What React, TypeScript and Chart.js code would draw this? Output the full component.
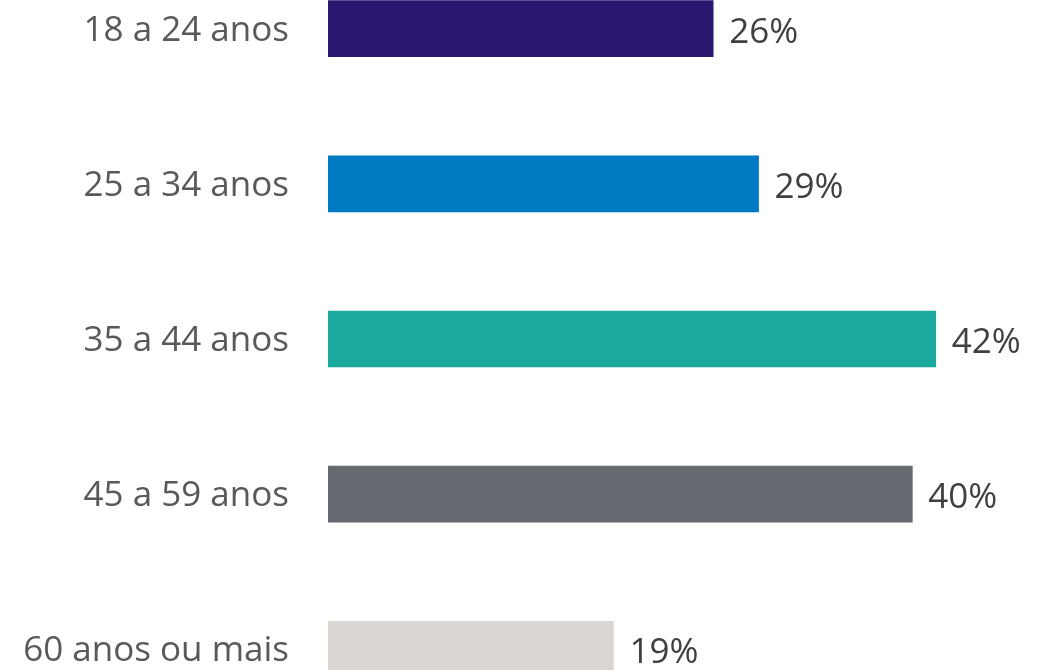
import React, { useEffect, useRef } from "react";
import { Chart, registerables } from "chart.js";

Chart.register(...registerables);

const categories = ["18 a 24 anos", "25 a 34 anos", "35 a 44 anos", "45 a 59 anos", "60 anos ou mais"];
const values = [26.3, 29.4, 41.5, 39.9, 19.49];
const barColors = ["#2a1870", "#007ac2", "#1ba99c", "#646a70", "#dad7d3"];

const FONT = "'Open Sans', 'Segoe UI', sans-serif";

const valueLabelPlugin = {
  id: "valueLabels",
  afterDatasetsDraw(chart: any) {
    const ctx = chart.ctx;
    const meta = chart.getDatasetMeta(0);
    ctx.save();
    ctx.font = `35px ${FONT}`;
    ctx.fillStyle = "#404040";
    ctx.textAlign = "left";
    ctx.textBaseline = "middle";
    meta.data.forEach((bar: any, i: number) => {
      const v = chart.data.datasets[0].data[i] as number;
      ctx.fillText(`${Math.round(v)}%`, bar.x + 16, bar.y + 4);
    });
    ctx.restore();
  },
};

export default function App() {
  const ref = useRef<HTMLCanvasElement | null>(null);
  useEffect(() => {
    if (!ref.current) return;
    const chart = new Chart(ref.current, {
      type: "bar",
      data: {
        labels: categories,
        datasets: [
          {
            data: values,
            backgroundColor: barColors,
            borderWidth: 0,
            barThickness: 56,
          },
        ],
      },
      options: {
        indexAxis: "y",
        animation: false,
        responsive: false,
        maintainAspectRatio: false,
        layout: { padding: 0 },
        plugins: {
          legend: { display: false },
          tooltip: { enabled: false },
          title: { display: false },
        },
        scales: {
          x: {
            display: false,
            min: 0,
            max: 49.3,
            grid: { display: false },
          },
          y: {
            grid: { display: false, drawTicks: false },
            border: { display: false },
            afterFit(scale: any) {
              scale.width = 328;
              scale.paddingTop = 0;
              scale.paddingBottom = 0;
            },
            ticks: {
              padding: 39,
              labelOffset: 2,
              color: "#595959",
              font: { family: FONT, size: 35 },
            },
          },
        },
      },
      plugins: [valueLabelPlugin],
    });
    return () => chart.destroy();
  }, []);
  return (
    <div style={{ position: "absolute", left: 0, top: -49, width: 1050, height: 776 }}>
      <canvas ref={ref} width={1050} height={776} style={{ display: "block" }} />
    </div>
  );
}
